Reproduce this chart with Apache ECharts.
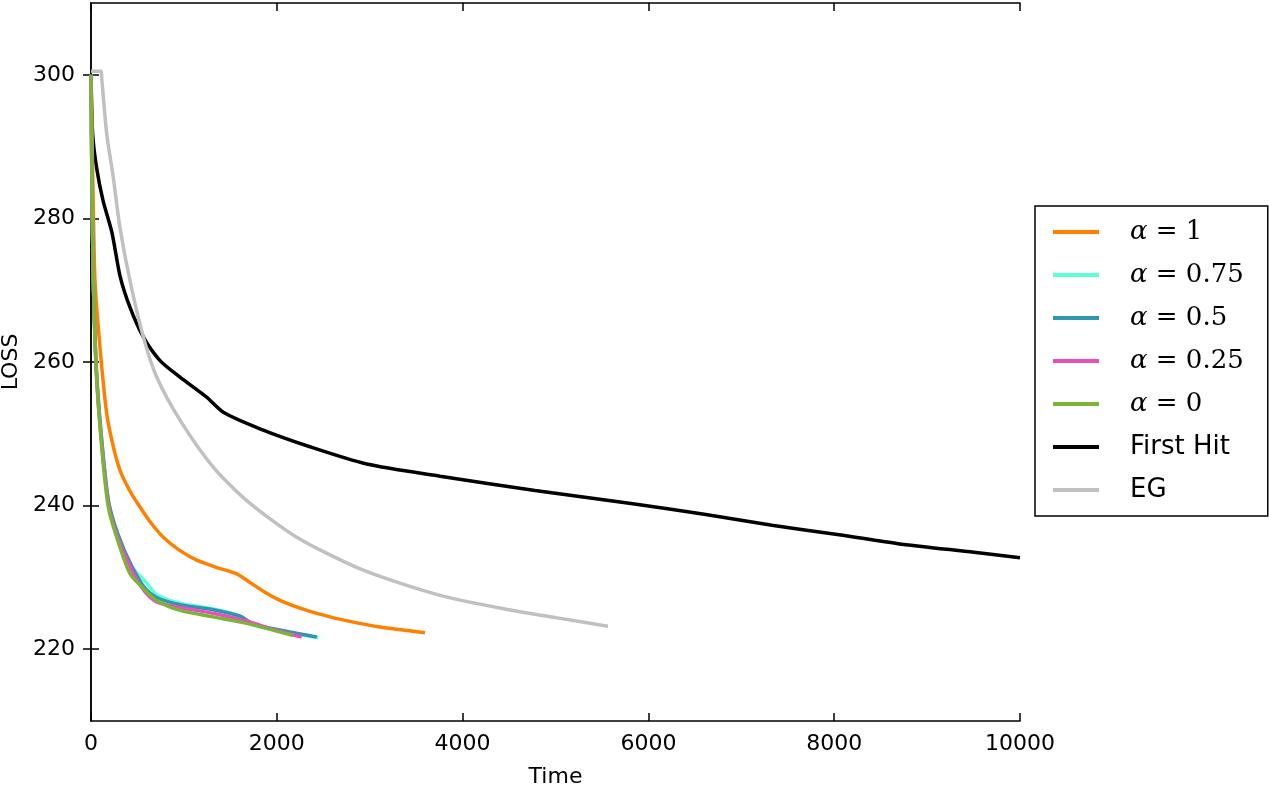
<!DOCTYPE html>
<html>
<head>
<meta charset="utf-8">
<script src="https://cdn.jsdelivr.net/npm/echarts@6/dist/echarts.min.js"></script>
<style>
    html, body { margin: 0; padding: 0; background: #fff; }
    #chart { width: 1269px; height: 786px; }
</style>
</head>
<body>
<div id="chart"></div>
<script>
'use strict';
// 各曲线数据 [time, loss]
var alpha1 = [[0, 300], [20, 285], [43, 271.3], [97, 262], [169, 252.8], [240, 248.2], [312, 244.9], [420, 242.0],
    [527, 239.8], [650, 237.5], [778, 235.6], [950, 233.8], [1138, 232.4], [1350, 231.4], [1568, 230.5],
    [1676, 229.6], [1850, 228.1], [2034, 226.8], [2300, 225.5], [2573, 224.5], [2850, 223.7], [3111, 223.1],
    [3595, 222.3]];
var alpha075 = [[0, 300], [10, 285], [25, 271.5], [60, 258.5], [120, 248.5], [190, 240.5], [290, 236], [440, 231.5],
    [600, 229.2], [707, 227.6], [958, 226.4], [1316, 225.6], [1604, 224.6], [1747, 223.4], [2100, 222.4], [2447, 221.6]];
var alpha05 = [[0, 300], [10, 285], [25, 271.5], [60, 258.5], [120, 248.5], [190, 240.5], [290, 236], [440, 231.5],
    [580, 228.5], [707, 227.2], [958, 226.2], [1316, 225.5], [1604, 224.6], [1747, 223.5], [2100, 222.5], [2430, 221.7]];
var alpha025 = [[0, 300], [10, 285], [25, 271.3], [60, 258], [120, 248], [190, 240], [290, 235.5], [440, 231],
    [580, 228], [707, 226.6], [958, 225.8], [1316, 225.0], [1676, 223.9], [2000, 222.6], [2268, 221.7]];
var alpha0 = [[0, 300], [10, 285], [25, 271.3], [60, 258], [115, 248.2], [186, 239.8], [276, 235.6], [420, 230.5],
    [560, 228.5], [707, 226.8], [958, 225.4], [1316, 224.5], [1676, 223.6], [2178, 221.9]];
var firstHit = [[0, 300], [18, 291.7], [61, 287], [129, 282.5], [226, 278], [312, 272], [420, 267.6], [563, 263.5],
    [743, 260.2], [958, 257.9], [1245, 255.1], [1424, 253.0], [1819, 250.7], [2357, 248.2], [2968, 245.8],
    [3757, 244.1], [4780, 242.1], [5813, 240.3], [6600, 238.8], [7330, 237.25], [8073, 235.9], [8687, 234.7],
    [9505, 233.5], [10000, 232.75]];
var eg = [[0, 300.5], [110, 300.5], [115, 299.6], [169, 291.8], [240, 285.7], [312, 278.7], [420, 271.3], [563, 263.5],
    [707, 257.9], [958, 251.9], [1313, 245.4], [1676, 240.7], [2214, 235.6], [2931, 231.0], [3757, 227.5],
    [4500, 225.5], [5000, 224.4], [5565, 223.2]];

var seriesNames = ['α=1', 'α=0.75', 'α=0.5', 'α=0.25', 'α=0', 'First Hit', 'EG'];
var seriesData = [alpha1, alpha075, alpha05, alpha025, alpha0, firstHit, eg];
var seriesColors = ['#ff8000', '#5affd8', '#2f95b0', '#e84fbb', '#7db336', '#000000', '#c0c0c0'];
var xTicks = [0, 2000, 4000, 6000, 8000, 10000];
var yTicks = [220, 240, 260, 280, 300];

var font = 'DejaVu Sans';
var myChart = echarts.init(document.getElementById('chart'));

var series = [];
for (var i = 0; i < seriesNames.length; i++) {
    series.push({
        name: seriesNames[i],
        type: 'line',
        data: seriesData[i],
        showSymbol: false,
        smooth: 0.25,
        lineStyle: {width: 3.5, color: seriesColors[i]},
        itemStyle: {color: seriesColors[i]},
        z: i >= 5 ? 2 : 3
    });
}
// 绘制顺序：先画底层
series = [series[5], series[6], series[0], series[1], series[2], series[3], series[4]];

var tickStyle = {inside: true, length: 8, lineStyle: {color: '#000', width: 1.5}};

var option = {
    animation: false,
    backgroundColor: '#fff',
    grid: {left: 91, right: 249, top: 3, bottom: 65, outerBoundsMode: 'none', containLabel: false},
    legend: {
        data: seriesNames,
        orient: 'vertical',
        left: 1035,
        top: 206,
        width: 232,
        padding: [13, 24, 13, 18],
        itemGap: 17,
        itemWidth: 46,
        itemHeight: 4,
        icon: 'rect',
        borderColor: '#000',
        borderWidth: 1.5,
        borderRadius: 0,
        formatter: function (name) {
            if (name.indexOf('α') === 0) {
                return '{a|α}{b| = ' + name.slice(2) + '}';
            }
            return '{c|' + name + '}';
        },
        textStyle: {
            rich: {
                a: {fontFamily: 'DejaVu Serif', fontStyle: 'italic', fontSize: 26, color: '#000', padding: [0, 0, 0, 26]},
                b: {fontFamily: 'DejaVu Serif', fontSize: 26, color: '#000'},
                c: {fontFamily: font, fontSize: 26, color: '#000', padding: [0, 0, 0, 26]}
            }
        }
    },
    xAxis: [{
        type: 'value',
        min: 0,
        max: 10000,
        interval: 2000,
        name: 'Time',
        nameLocation: 'middle',
        nameGap: 45,
        nameTextStyle: {fontFamily: font, fontSize: 22, color: '#000'},
        axisLine: {lineStyle: {color: '#000', width: 1.5}},
        axisTick: tickStyle,
        axisLabel: {fontFamily: font, fontSize: 22, color: '#000', margin: 12,
            customValues: xTicks, formatter: function (v) { return String(v); }},
        splitLine: {show: false}
    }, {
        type: 'value',
        position: 'top',
        min: 0,
        max: 10000,
        interval: 2000,
        axisLine: {lineStyle: {color: '#000', width: 1.5}},
        axisTick: tickStyle,
        axisLabel: {show: false},
        splitLine: {show: false}
    }],
    yAxis: [{
        type: 'value',
        min: 210,
        max: 310,
        name: 'LOSS',
        nameLocation: 'middle',
        nameGap: 68,
        nameTextStyle: {fontFamily: font, fontSize: 22, color: '#000'},
        axisLine: {lineStyle: {color: '#000', width: 1.5}},
        axisTick: {inside: true, length: 8, lineStyle: {color: '#000', width: 1.5}, customValues: yTicks},
        axisLabel: {fontFamily: font, fontSize: 22, color: '#000', margin: 16, customValues: yTicks},
        splitLine: {show: false}
    }, {
        type: 'value',
        position: 'right',
        min: 210,
        max: 310,
        axisLine: {show: true, lineStyle: {color: '#000', width: 1.5}},
        axisTick: {show: true, inside: true, length: 8, lineStyle: {color: '#000', width: 1.5}, customValues: yTicks},
        axisLabel: {show: false},
        splitLine: {show: false}
    }],
    series: series
};

myChart.setOption(option);
</script>
</body>
</html>
